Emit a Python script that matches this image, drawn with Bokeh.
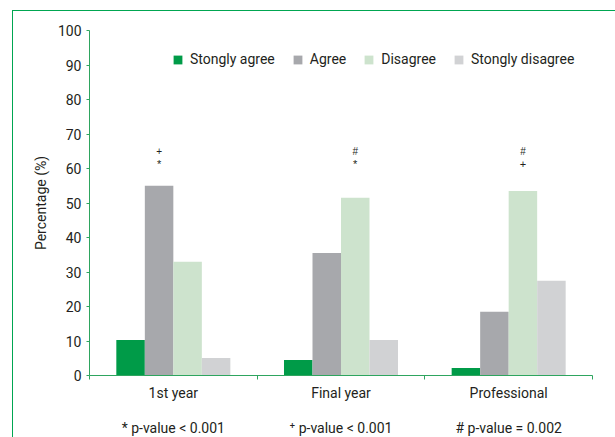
import numpy as np
from bokeh.plotting import figure
from bokeh.models import FixedTicker, Legend, LegendItem, LinearAxis, Range1d
from bokeh.embed import file_html
from bokeh.resources import INLINE
from bokeh.core.properties import value

categories = ["1st year", "Final year", "Professional"]
series_names = ["Stongly agree", "Agree", "Disagree", "Stongly disagree"]
strongly_agree = [10.3, 4.5, 2.2]
agree = [55.0, 35.5, 18.5]
disagree = [33.0, 51.5, 53.5]
strongly_disagree = [5.1, 10.3, 27.5]
y_ticks = [0, 10, 20, 30, 40, 50, 60, 70, 80, 90, 100]
sig_upper = ["+", "#", "#"]
sig_lower = ["*", "*", "+"]
sig_bar = [1, 2, 2]
footnote_symbols = ["*", "\u207a", "#"]
footnote_texts = ["p-value < 0.001", "p-value < 0.001", "p-value = 0.002"]

colors = ["#009b48", "#a7a8ac", "#cde3cd", "#d1d2d4"]
FONT = "Roboto"
TXT = "#231f20"
AXIS_GREEN = "#2ea55f"

p = figure(width=603, height=427, output_backend="svg", toolbar_location=None,
           x_range=Range1d(0, 3), y_range=Range1d(0, 100),
           min_border_left=76, min_border_right=24, min_border_top=19, min_border_bottom=60)
p.margin = (10, 0, 0, 12)
p.styles = {"border-top": "1.5px solid #00a651", "border-left": "1.5px solid #00a651"}
p.outline_line_color = None
p.grid.grid_line_color = None
p.background_fill_color = "white"
p.border_fill_color = "white"

bw = 0.17
centers = np.arange(len(categories)) + 0.5
all_series = [strongly_agree, agree, disagree, strongly_disagree]
renderers = []
for j, vals in enumerate(all_series):
    r = p.vbar(x=centers + (j - 1.5) * bw, top=vals, bottom=0, width=bw,
               fill_color=colors[j], line_color=None)
    renderers.append(r)

# significance marks
sx = centers + (np.array(sig_bar) - 1.5) * bw
p.text(x=sx, y=[65.0] * 3, text=sig_upper, text_font=value("Liberation Sans"),
       text_font_size="10px", text_align="center", text_baseline="middle", text_color=TXT)
p.text(x=sx, y=[61.2] * 3, text=sig_lower, text_font=value("Liberation Sans"),
       text_font_size="11px", text_align="center", text_baseline="middle", text_color=TXT)

# axes
ya = p.yaxis[0]
ya.ticker = FixedTicker(ticks=y_ticks, minor_ticks=[])
ya.axis_label = "Percentage (%)"
ya.axis_label_text_font = FONT
ya.axis_label_text_font_size = "14px"
ya.axis_label_text_font_style = "normal"
ya.axis_label_text_color = TXT
ya.axis_label_standoff = 6
ya.major_label_text_font = FONT
ya.major_label_text_font_size = "14px"
ya.major_label_text_color = TXT
ya.major_label_standoff = 5
ya.major_tick_out = 3
ya.major_tick_in = 0
ya.axis_line_color = AXIS_GREEN
ya.major_tick_line_color = AXIS_GREEN

xa = p.xaxis[0]
xa.ticker = FixedTicker(ticks=list(centers), minor_ticks=list(range(len(categories) + 1)))
xa.major_label_overrides = {float(c): categories[i] for i, c in enumerate(centers)}
xa.major_label_text_font = FONT
xa.major_label_text_font_size = "14px"
xa.major_label_text_color = TXT
xa.major_label_standoff = 5
xa.major_tick_line_color = None
xa.major_tick_out = 0
xa.major_tick_in = 0
xa.minor_tick_out = 4
xa.minor_tick_in = 0
xa.minor_tick_line_color = AXIS_GREEN
xa.axis_line_color = AXIS_GREEN

# footnote row as a second, bare axis
xa2 = LinearAxis(ticker=FixedTicker(ticks=list(centers), minor_ticks=[]))
xa2.major_label_overrides = {float(c): footnote_symbols[i] + " " + footnote_texts[i]
                             for i, c in enumerate(centers)}
xa2.major_label_text_font = FONT
xa2.major_label_text_font_size = "14px"
xa2.major_label_text_color = TXT
xa2.major_label_standoff = 16
xa2.axis_line_color = None
xa2.major_tick_line_color = None
xa2.minor_tick_line_color = None
xa2.major_tick_out = 0
xa2.major_tick_in = 0
p.add_layout(xa2, "below")

# legend
items = [LegendItem(label=series_names[j], renderers=[renderers[j]]) for j in range(4)]
legend = Legend(items=items, orientation="horizontal", location=(83, 308),
                glyph_width=11, glyph_height=11, label_height=11, label_standoff=7,
                spacing=17, padding=0, margin=0, border_line_color=None,
                background_fill_alpha=0, label_text_font=FONT,
                label_text_font_size="14px", label_text_color=TXT)
p.add_layout(legend, "center")

open("out.html", "w").write(file_html(p, INLINE))
